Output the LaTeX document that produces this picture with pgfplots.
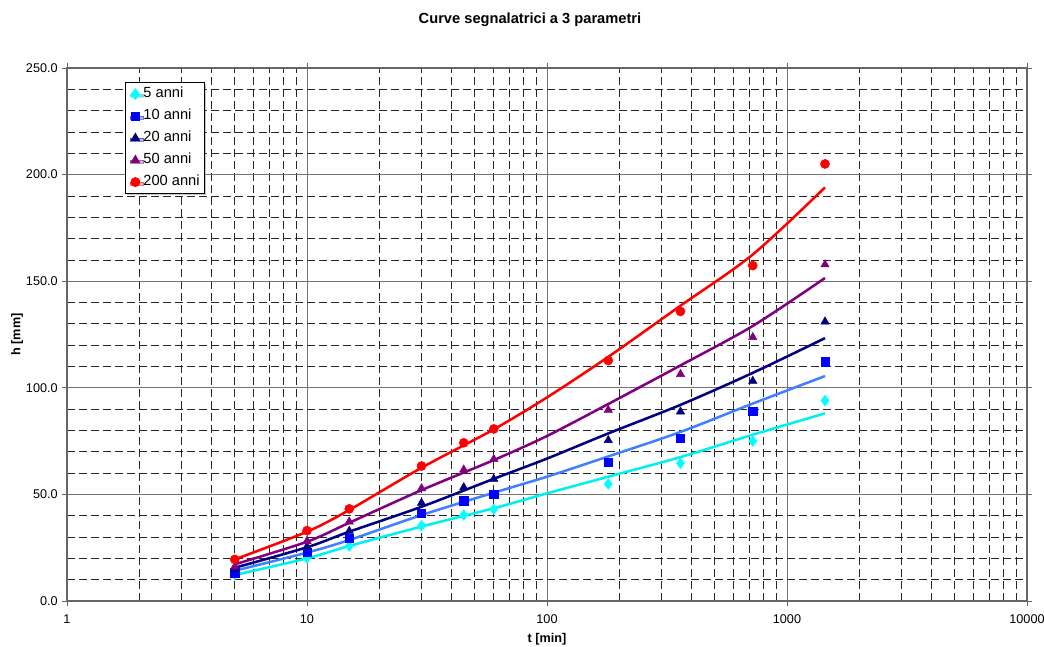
\documentclass[border=0pt]{standalone}
\usepackage{fontspec}
\setmainfont{Liberation Sans}
\usepackage{pgfplots}
\pgfplotsset{compat=1.18}
\usetikzlibrary{shadows}
\definecolor{cA}{RGB}{0,255,255}
\definecolor{cAl}{RGB}{0,240,240}
\definecolor{cB}{RGB}{0,0,255}
\definecolor{cBl}{RGB}{64,128,255}
\definecolor{cC}{RGB}{0,0,128}
\definecolor{cD}{RGB}{128,0,128}
\definecolor{cE}{RGB}{255,0,0}
\begin{document}
\begin{tikzpicture}
\useasboundingbox (-50.25pt,-33.75pt) rectangle (732.75pt,450.75pt);
\begin{axis}[
  at={(0,0)}, anchor=south west,
  width=720pt, height=399.75pt, scale only axis,
  xmode=log, xmin=1, xmax=10000, ymin=0, ymax=250,
  xtick={1,10,100,1000,10000}, xticklabels={1,10,100,1000,10000},
  ytick={0,50,100,150,200,250}, minor y tick num=4,
  grid=both,
  major grid style={solid, black!55, line width=0.7pt},
  minor grid style={black!85, line width=0.55pt, dash pattern=on 6pt off 3pt},
  axis line style={black!60, line width=0.8pt},
  tick align=outside, major tick length=3.5pt, minor tick length=0pt,
  tick style={black!60, line width=0.7pt},
  yticklabel style={font=\fontsize{9.5}{11}\selectfont, /pgf/number format/.cd, fixed, fixed zerofill, precision=1, assume math mode=true},
  xticklabel style={font=\fontsize{9.5}{11}\selectfont, yshift=-3.5pt},
  title={Curve segnalatrici a 3 parametri},
  title style={font=\bfseries\fontsize{11}{13}\selectfont, at={(axis description cs:0.4823,1.075)}, anchor=center},
  xlabel={t [min]},
  xlabel style={font=\bfseries\fontsize{9.5}{11}\selectfont, at={(axis description cs:0.5,-0.0713)}, anchor=center},
  ylabel={h [mm]},
  ylabel style={font=\bfseries\fontsize{9.5}{11}\selectfont, at={(axis description cs:-0.052,0.5)}, anchor=center},
  legend style={at={(axis description cs:0.0604,0.9737)}, anchor=north west, draw=black, fill=white, line width=0.6pt,
    drop shadow={shadow xshift=1.2pt, shadow yshift=-1.2pt, fill=black!45},
    font=\fontsize{11}{13}\selectfont, inner xsep=2.5pt, inner ysep=2.5pt, row sep=4pt,
    nodes={text height=8pt, text depth=2.5pt, inner sep=1pt}},
  legend cell align=left,
  legend image code/.code={\path[draw=none,fill=none] (0pt,-1pt) rectangle (10pt,1pt); \draw[mark repeat=2,mark phase=2] plot coordinates {(0pt,0pt)(5pt,0pt)(10pt,0pt)};},
  mark size=3.4pt,
]
% fitted curves
\addplot[cAl, line width=1.9pt, smooth, forget plot] coordinates {(5,12.2)(10,20)(15,25.8)(30,34.9)(60,43.5)(100,50.5)(180,58.3)(360,67.5)(720,78)(1440,88)};
\addplot[cBl, line width=1.9pt, smooth, forget plot] coordinates {(5,14.2)(10,22.7)(15,28.6)(30,40.3)(60,50.8)(100,58.3)(180,67.8)(360,79.3)(720,92.6)(1440,105.5)};
\addplot[cC, line width=1.9pt, smooth, forget plot] coordinates {(5,15.6)(10,25.2)(15,32.5)(30,44.2)(60,57.3)(100,66.8)(180,78.6)(360,92)(720,107)(1440,123.3)};
\addplot[cD, line width=1.9pt, smooth, forget plot] coordinates {(5,17.2)(10,27.8)(15,36.7)(30,52)(60,66.1)(100,77.4)(180,92.4)(360,110.5)(720,129)(1440,151.5)};
\addplot[cE, line width=1.9pt, smooth, forget plot] coordinates {(5,19.5)(10,32.5)(15,42.7)(30,62.5)(60,80.5)(100,95.5)(180,114.5)(360,138.5)(720,162.5)(1440,194)};
% observed points
\addplot[only marks, mark=diamond*, mark size=4pt, color=cA] coordinates {(5,12.5)(10,20.2)(15,25.8)(30,35.3)(45,40.3)(60,43)(180,54.9)(360,64.6)(720,75)(1440,94)};
\addlegendentry{5 anni}
\addplot[only marks, mark=square*, mark size=3.1pt, color=cB] coordinates {(5,13.3)(10,22.8)(15,29.4)(30,41.1)(45,47)(60,50.2)(180,65.2)(360,76.5)(720,89.1)(1440,112.2)};
\addlegendentry{10 anni}
\addplot[only marks, mark=triangle*, mark size=3.6pt, color=cC] coordinates {(5,15)(10,25.5)(15,32.8)(30,46)(45,53.3)(60,57.2)(180,75.4)(360,88.8)(720,103.2)(1440,131)};
\addlegendentry{20 anni}
\addplot[only marks, mark=triangle*, mark size=3.6pt, color=cD] coordinates {(5,16.1)(10,28.1)(15,37.2)(30,52.8)(45,61.6)(60,66.5)(180,89.6)(360,106.4)(720,123.7)(1440,157.8)};
\addlegendentry{50 anni}
\addplot[only marks, mark=*, mark size=3.4pt, color=cE] coordinates {(5,19.5)(10,33)(15,43.2)(30,63.3)(45,74.2)(60,80.7)(180,112.8)(360,135.8)(720,157.3)(1440,205)};
\addlegendentry{200 anni}
\end{axis}
\end{tikzpicture}
\end{document}
